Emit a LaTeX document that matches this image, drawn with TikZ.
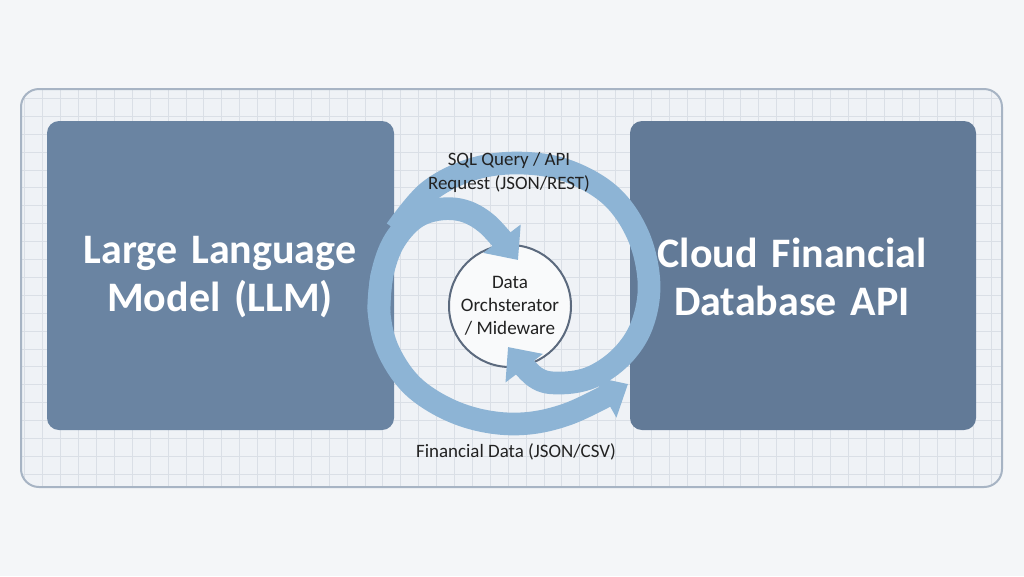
\documentclass[tikz,border=0pt]{standalone}
\usepackage{fontspec}
\setmainfont{Carlito}
\usetikzlibrary{arrows.meta}
\definecolor{bg}{HTML}{F4F6F8}
\definecolor{panelfill}{HTML}{EFF2F6}
\definecolor{panelborder}{HTML}{A7B4C4}
\definecolor{gridc}{HTML}{DADFE6}
\definecolor{leftboxc}{HTML}{6A84A2}
\definecolor{rightboxc}{HTML}{627A97}
\definecolor{bandc}{HTML}{8DB4D5}
\definecolor{ringc}{HTML}{5C6A7E}
\definecolor{labelc}{HTML}{222222}
\tikzset{
  bigbox/.style={draw=none, rounded corners=9pt, minimum height=231.75pt, text=white,
    align=center, font=\fontsize{31.5}{36}\selectfont\bfseries},
  band/.style={draw=bandc, line width=17pt},
  bandtip/.style={-{Triangle[length=20pt,width=34pt]}},
  gridline/.style={draw=gridc, line width=0.6pt},
  flowlabel/.style={text=labelc, align=center, font=\fontsize{14.2}{18}\selectfont},
}
\begin{document}
\begin{tikzpicture}[x=0.75pt,y=-0.75pt]
\fill[bg] (0,0) rectangle (1024,576);
\useasboundingbox (0,0) rectangle (1024,576);
% panel with grid
\fill[panelfill, rounded corners=13.5pt] (21,89) rectangle (1002,487);
\begin{scope}
  \clip[rounded corners=13.5pt] (21,89) rectangle (1002,487);
  \foreach \i in {0,...,56} \draw[gridline] ({24.8+\i*17.9},85) -- ({24.8+\i*17.9},490);
  \foreach \j in {0,...,22} \draw[gridline] (18,{80.4+\j*17.9}) -- (1006,{80.4+\j*17.9});
\end{scope}
\node[draw=panelborder, line width=1.5pt, rounded corners=13.5pt, minimum width=735.75pt, minimum height=298.5pt] (panel) at (511.5,288) {};
% boxes
\node[bigbox, fill=leftboxc, minimum width=260.25pt] (llm) at (220.5,275.5) {};
\node[bigbox, fill=rightboxc, minimum width=259.5pt] (db) at (803,275.5) {};
\node[bigbox, text width=255pt] (llmtext) at (220,277) {Large Language\\Model (LLM)};
\node[bigbox, text width=255pt] (dbtext) at (792,277) {Cloud Financial\\Database API};
% orchestrator ring
\node[circle, draw=ringc, line width=1.5pt, fill=white!60!panelfill, minimum size=91.5pt, inner sep=0pt] (orch) at (510,306) {};
% coordinates for bands
\coordinate (aS) at (396,230);
\coordinate (aT) at (508,347);
\coordinate (bJ) at (382,275);
\coordinate (bT1) at (518,260);
\coordinate (bT2) at (628,384);
% outer band (request)
\draw[band, bandtip] plot[smooth, tension=0.6] coordinates {(aS) (428,192) (470,170) (516,163) (565,170) (610,195) (638,235) (649,283) (642,325) (622,356) (592,377) (560,383) (535,377) (aT)};
% loop band (data), two arms from a shared point
\draw[band, bandtip] plot[smooth, tension=0.6] coordinates {(379,312) (bJ) (395,240) (420,215) (455,209) (486,223) (bT1)};
\draw[band, bandtip] plot[smooth, tension=0.6] coordinates {(bJ) (379,312) (389,352) (416,389) (462,415) (515,424) (568,414) (bT2)};
% texts
\node[align=center, text=labelc, font=\fontsize{14.3}{17.25}\selectfont] (orchtext) at (orch.center) {Data\\Orchsterator\\/ Mideware};
\node[flowlabel] (req) at (509,172) {SQL Query / API\\Request (JSON/REST)};
\node[flowlabel] (fin) at (516,452) {Financial Data (JSON/CSV)};
\end{tikzpicture}
\end{document}
